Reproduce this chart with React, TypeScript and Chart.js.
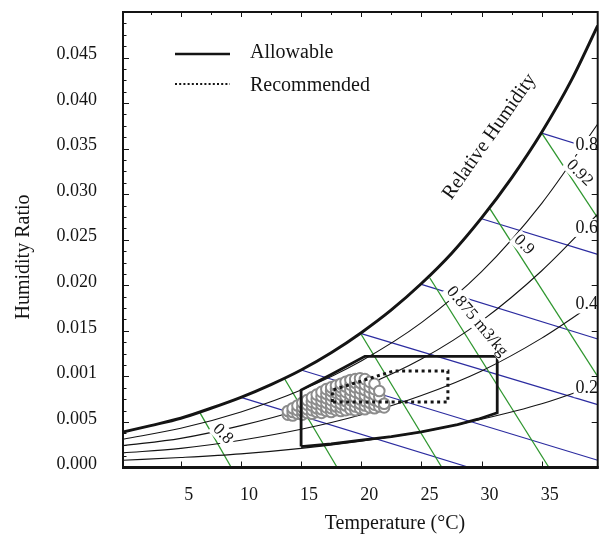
import { useEffect, useRef } from 'react';
import { Chart, registerables } from 'chart.js';

Chart.register(...registerables);

const FONT = '"Liberation Serif", "Times New Roman", serif';
const INK = '#141414';
const GREEN = '#2e962e';
const BLUE = '#2c2ca0';

// ---- axis ticks ----
const xTickValues = [5, 10, 15, 20, 25, 30, 35];
const xTickLabels = ['5', '10', '15', '20', '25', '30', '35'];
const yTickValues = [0, 0.005, 0.01, 0.015, 0.02, 0.025, 0.03, 0.035, 0.04, 0.045];
const yTickLabels = ['0.000', '0.005', '0.001', '0.015', '0.020', '0.025', '0.030', '0.035', '0.040', '0.045'];

// ---- saturation curve (RH = 1.0) ----
const satT = [0.2, 2.5, 5, 7.5, 10, 12.5, 15, 17.5, 20, 22.5, 25, 27.5, 30, 32.5, 35, 37.5, 39.65];
const satW = [0.0039, 0.0046, 0.0054, 0.0065, 0.0077, 0.0091, 0.0107, 0.0126, 0.0148, 0.0173, 0.0202, 0.0235, 0.0274, 0.0318, 0.0368, 0.0426, 0.0485];

// ---- relative humidity curves ----
const rhT = [0.2, 5, 10, 15, 20, 25, 30, 35, 39.65];
const rh80 = [0.0031, 0.0043, 0.0061, 0.0085, 0.0117, 0.0159, 0.0215, 0.029, 0.0377];
const rh60 = [0.0024, 0.0032, 0.0046, 0.0064, 0.0088, 0.0119, 0.0161, 0.0216, 0.0278];
const rh40 = [0.0016, 0.0021, 0.003, 0.0042, 0.0058, 0.0079, 0.0106, 0.0142, 0.0183];
const rh20 = [0.0008, 0.0011, 0.0015, 0.0021, 0.0029, 0.0039, 0.0053, 0.007, 0.0091];

// ---- specific volume lines (green) ----
const volStartT = [6.6, 13.6, 20.0, 25.7, 30.7, 35.0];
const volStartW = [0.006, 0.0098, 0.0146, 0.0208, 0.0284, 0.0367];
const volEndT = [9.2, 18.0, 26.7, 35.6, 39.65, 39.65];
const volEndW = [0, 0, 0, 0, 0.01, 0.0274];

// ---- enthalpy lines (blue) ----
const enthStartT = [10, 15, 20, 25, 30, 35];
const enthStartW = [0.0077, 0.0107, 0.0147, 0.0201, 0.0273, 0.0367];
const enthEndT = [29.0, 39.65, 39.65, 39.65, 39.65, 39.65];
const enthEndW = [0, 0.0008, 0.0069, 0.0141, 0.0234, 0.0348];

// ---- envelopes ----
const allowT = [15, 15, 17.5, 20.3, 31.3, 31.3, 29.7, 28, 25, 22.5, 20, 17.5, 15];
const allowW = [0.0023, 0.0085, 0.0102, 0.0122, 0.0122, 0.006, 0.0053, 0.0047, 0.0039, 0.0034, 0.003, 0.0026, 0.0023];
const recT = [17.6, 17.6, 22.7, 27.2, 27.2, 17.6];
const recW = [0.0072, 0.0085, 0.0106, 0.0106, 0.0072, 0.0072];

// ---- measured samples (columns of temperature, humidity ratios) ----
const sampleColT = [13.9, 14.3, 14.7, 15.1, 15.5, 15.9, 16.3, 16.7, 17.1, 17.5, 17.9, 18.3, 18.7, 19.1, 19.5, 19.9, 20.3, 20.7, 21.1, 21.5, 21.9];
const sampleColW = [
  [0.0058, 0.0062],
  [0.0057, 0.0061, 0.0065],
  [0.0059, 0.0063, 0.0068],
  [0.0058, 0.0062, 0.0066, 0.0071],
  [0.006, 0.0064, 0.0069, 0.0074],
  [0.0059, 0.0063, 0.0068, 0.0072, 0.0077],
  [0.0061, 0.0065, 0.007, 0.0075, 0.008],
  [0.006, 0.0064, 0.0069, 0.0073, 0.0078, 0.0083],
  [0.0062, 0.0066, 0.0071, 0.0076, 0.0081, 0.0086],
  [0.0061, 0.0065, 0.0069, 0.0074, 0.0079, 0.0084, 0.0088],
  [0.0063, 0.0067, 0.0072, 0.0077, 0.0082, 0.0086, 0.009],
  [0.0062, 0.0066, 0.007, 0.0075, 0.008, 0.0084, 0.0088, 0.0092],
  [0.0063, 0.0068, 0.0073, 0.0078, 0.0083, 0.0089, 0.0094],
  [0.0064, 0.0069, 0.0074, 0.008, 0.0085, 0.0091, 0.0096],
  [0.0063, 0.0067, 0.0072, 0.0077, 0.0083, 0.0088, 0.0093, 0.0097],
  [0.0065, 0.007, 0.0075, 0.0081, 0.0087, 0.0093, 0.0098],
  [0.0064, 0.0068, 0.0073, 0.0079, 0.0085, 0.0091, 0.0097],
  [0.0066, 0.0071, 0.0076, 0.0082, 0.0088, 0.0094],
  [0.0065, 0.0069, 0.0074, 0.008, 0.0086, 0.0092],
  [0.0067, 0.0072, 0.0078, 0.0084],
  [0.0066, 0.007],
];

// ---- annotations (data coordinates) ----
const rhLabelText = ['0.8', '0.6', '0.4', '0.2'];
const rhLabelT = [38.75, 38.75, 38.75, 38.75];
const rhLabelW = [0.0354, 0.0263, 0.0179, 0.0087];
const volLabelText = ['0.8', '0.875 m3/kg', '0.9', '0.92'];
const volLabelT = [8.49, 29.63, 33.52, 38.14];
const volLabelW = [0.00368, 0.01602, 0.02445, 0.03233];
const volLabelAngle = [46, 50, 45, 45];

const pts = (xs: number[], ys: number[]) => xs.map((x, i) => ({ x, y: ys[i] }));

function lineDs(label: string, data: any[], color: string, width: number, order: number, extra: any = {}) {
  return {
    label,
    data,
    showLine: true,
    borderColor: color,
    backgroundColor: color,
    borderWidth: width,
    pointRadius: 0,
    pointHoverRadius: 0,
    fill: false,
    order,
    ...extra,
  };
}

function drawText(ctx: CanvasRenderingContext2D, text: string, px: number, py: number, angleDeg: number, size: number, bg: boolean) {
  ctx.save();
  ctx.translate(px, py);
  ctx.rotate((angleDeg * Math.PI) / 180);
  ctx.font = `${size}px ${FONT}`;
  const w = ctx.measureText(text).width;
  if (bg) {
    ctx.fillStyle = '#ffffff';
    ctx.fillRect(-w / 2 - 2, -size * 0.5, w + 4, size);
  }
  ctx.fillStyle = INK;
  ctx.textAlign = 'center';
  ctx.textBaseline = 'middle';
  ctx.fillText(text, 0, 0);
  ctx.restore();
}

const overlay = {
  id: 'overlay',
  afterDatasetsDraw(chart: any) {
    const { ctx, scales } = chart;
    const x = scales.x;
    const y = scales.y;
    volLabelText.forEach((t, i) => {
      drawText(ctx, t, x.getPixelForValue(volLabelT[i]), y.getPixelForValue(volLabelW[i]), volLabelAngle[i], t.length > 4 ? 17 : 17, true);
    });
    rhLabelText.forEach((t, i) => {
      drawText(ctx, t, x.getPixelForValue(rhLabelT[i]), y.getPixelForValue(rhLabelW[i]), 0, 18, true);
    });
    drawText(ctx, 'Relative Humidity', x.getPixelForValue(30.66), y.getPixelForValue(0.03632), -55, 20, false);
  },
  afterDraw(chart: any) {
    const { ctx, chartArea: ca, scales } = chart;
    const x = scales.x;
    const y = scales.y;
    ctx.save();
    ctx.strokeStyle = INK;
    // frame
    ctx.lineWidth = 2;
    ctx.strokeRect(ca.left, ca.top, ca.right - ca.left, ca.bottom - ca.top);
    ctx.lineWidth = 3;
    ctx.beginPath();
    ctx.moveTo(ca.left - 1, ca.bottom);
    ctx.lineTo(ca.right + 1, ca.bottom);
    ctx.stroke();
    // ticks
    ctx.lineWidth = 1;
    ctx.beginPath();
    for (let v = 0.00125; v < 0.05; v += 0.00125) {
      const py = Math.round(y.getPixelForValue(v)) + 0.5;
      const major = Math.abs(v / 0.005 - Math.round(v / 0.005)) < 1e-6;
      ctx.moveTo(ca.left, py);
      ctx.lineTo(ca.left + (major ? 6 : 3.5), py);
      if (major) {
        ctx.moveTo(ca.right, py);
        ctx.lineTo(ca.right - 6, py);
      }
    }
    for (let v = 2.5; v < 39.6; v += 2.5) {
      const px = Math.round(x.getPixelForValue(v)) + 0.5;
      const major = v % 5 === 0;
      ctx.moveTo(px, ca.top);
      ctx.lineTo(px, ca.top + (major ? 5 : 3));
      if (major) {
        ctx.moveTo(px, ca.bottom);
        ctx.lineTo(px, ca.bottom - 6);
      }
    }
    ctx.stroke();
    // legend
    ctx.lineWidth = 2.5;
    ctx.beginPath();
    ctx.moveTo(175, 54);
    ctx.lineTo(230, 54);
    ctx.stroke();
    ctx.lineWidth = 2;
    ctx.setLineDash([2, 2.2]);
    ctx.beginPath();
    ctx.moveTo(175, 84);
    ctx.lineTo(230, 84);
    ctx.stroke();
    ctx.setLineDash([]);
    ctx.fillStyle = INK;
    ctx.font = `20px ${FONT}`;
    ctx.textAlign = 'left';
    ctx.textBaseline = 'middle';
    ctx.fillText('Allowable', 250, 53);
    ctx.fillText('Recommended', 250, 86);
    // axis titles
    ctx.textAlign = 'center';
    ctx.fillText('Temperature (\u00B0C)', 395, 524);
    ctx.translate(24, 257);
    ctx.rotate(-Math.PI / 2);
    ctx.fillText('Humidity Ratio', 0, 0);
    ctx.restore();
  },
};

export default function App() {
  const ref = useRef<HTMLCanvasElement>(null);
  useEffect(() => {
    const samples: { x: number; y: number }[] = [];
    sampleColT.forEach((t, i) => sampleColW[i].forEach((w) => samples.push({ x: t, y: w })));

    const datasets: any[] = [
      lineDs('Recommended', pts(recT, recW), INK, 3, 0, { borderDash: [3, 3.5], tension: 0 }),
      lineDs('Allowable', pts(allowT, allowW), INK, 2.8, 1, { tension: 0, borderJoinStyle: 'miter' }),
      {
        label: 'Samples',
        data: samples,
        showLine: false,
        pointRadius: 5.3,
        pointHoverRadius: 5.3,
        pointBorderWidth: 2,
        pointBorderColor: '#8c8c8c',
        pointBackgroundColor: '#ffffff',
        order: 2,
      },
      lineDs('RH 1.0', pts(satT, satW), INK, 3, 3, { cubicInterpolationMode: 'monotone' }),
      lineDs('RH 0.8', pts(rhT, rh80), INK, 1.1, 4, { cubicInterpolationMode: 'monotone' }),
      lineDs('RH 0.6', pts(rhT, rh60), INK, 1.1, 4, { cubicInterpolationMode: 'monotone' }),
      lineDs('RH 0.4', pts(rhT, rh40), INK, 1.1, 4, { cubicInterpolationMode: 'monotone' }),
      lineDs('RH 0.2', pts(rhT, rh20), INK, 1.1, 4, { cubicInterpolationMode: 'monotone' }),
    ];
    volStartT.forEach((t, i) => {
      datasets.push(lineDs(`v${i}`, [{ x: t, y: volStartW[i] }, { x: volEndT[i], y: volEndW[i] }], GREEN, 1.3, 5));
    });
    enthStartT.forEach((t, i) => {
      datasets.push(lineDs(`h${i}`, [{ x: t, y: enthStartW[i] }, { x: enthEndT[i], y: enthEndW[i] }], BLUE, 1.2, 5));
    });

    const chart = new Chart(ref.current as HTMLCanvasElement, {
      type: 'scatter',
      data: { datasets },
      options: {
        responsive: false,
        animation: false,
        events: [],
        layout: { padding: { left: 0, right: 4, top: 12, bottom: 0 } },
        plugins: { legend: { display: false }, tooltip: { enabled: false } },
        scales: {
          x: {
            type: 'linear',
            min: 0.2,
            max: 39.65,
            afterBuildTicks: (s: any) => {
              s.ticks = xTickValues.map((v) => ({ value: v }));
            },
            afterFit: (s: any) => {
              s.height = 67.5;
              s.paddingLeft = 0;
              s.paddingRight = 0;
              s.paddingTop = 0;
              s.paddingBottom = 0;
            },
            grid: { display: false, drawTicks: false },
            border: { display: false },
            ticks: {
              autoSkip: false,
              maxRotation: 0,
              padding: 17,
              labelOffset: 8,
              color: INK,
              font: { family: FONT, size: 18 },
              callback: (_v: any, i: number) => xTickLabels[i],
            },
          },
          y: {
            type: 'linear',
            min: 0,
            max: 0.05,
            afterBuildTicks: (s: any) => {
              s.ticks = yTickValues.map((v) => ({ value: v }));
            },
            afterFit: (s: any) => {
              s.width = 123;
              s.paddingLeft = 0;
              s.paddingRight = 0;
              s.paddingTop = 0;
              s.paddingBottom = 0;
            },
            grid: { display: false, drawTicks: false },
            border: { display: false },
            ticks: {
              autoSkip: false,
              padding: 26,
              labelOffset: -3,
              color: INK,
              font: { family: FONT, size: 18 },
              callback: (_v: any, i: number) => yTickLabels[i],
            },
          },
        },
      },
      plugins: [overlay],
    } as any);
    return () => chart.destroy();
  }, []);

  return (
    <div style={{ position: 'fixed', left: 0, top: 0, width: 605, height: 535, background: '#ffffff' }}>
      <canvas ref={ref} width={605} height={535} style={{ width: 605, height: 535, display: 'block' }} />
    </div>
  );
}
